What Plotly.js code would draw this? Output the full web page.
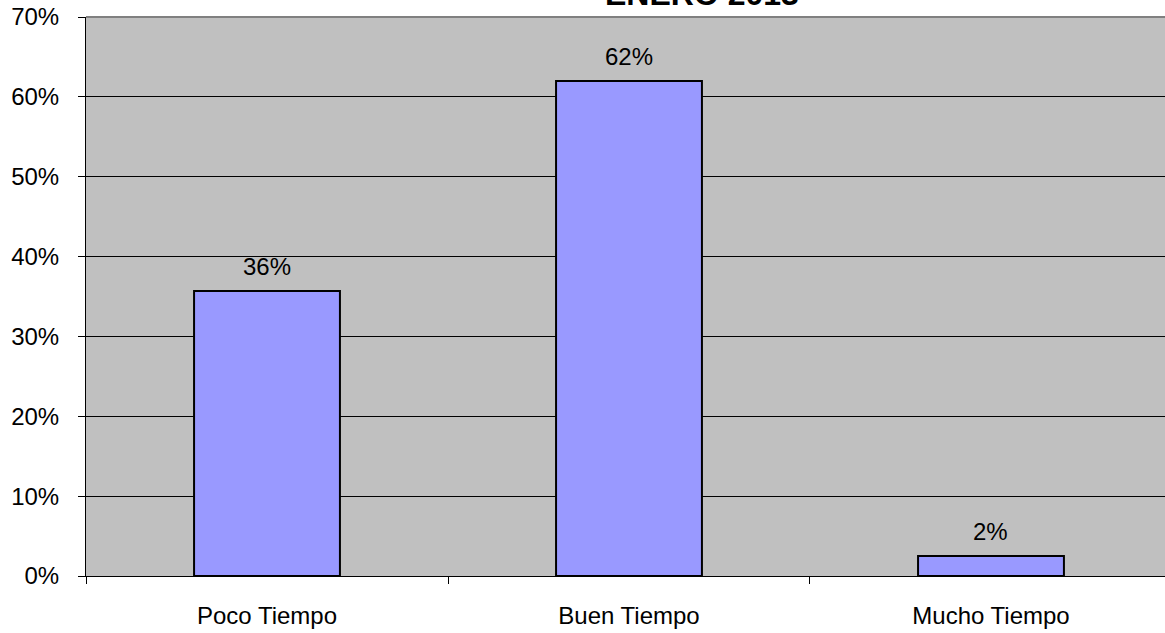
<!DOCTYPE html>
<html>
<head>
<meta charset="utf-8">
<script src="https://cdn.plot.ly/plotly-3.0.1.min.js"></script>
<style>html,body{margin:0;padding:0;background:#fff;}#chart{width:1165px;height:633px;}</style>
</head>
<body>
<div id="chart"></div>
<script>
var categories = ['Poco Tiempo', 'Buen Tiempo', 'Mucho Tiempo'];
var values = [0.357, 0.62, 0.0249];
var yTicks = [0, 0.1, 0.2, 0.3, 0.4, 0.5, 0.6, 0.7];
var yTickLabels = ['0%', '10%', '20%', '30%', '40%', '50%', '60%', '70%'];
var titleText = 'ENERO 2013';

var font = 'Arial, "Liberation Sans", sans-serif';

var trace = {
  type: 'bar',
  x: categories,
  y: values,
  width: 0.403,
  marker: {color: '#9999FF', line: {color: '#000000', width: 2}},
  hoverinfo: 'skip'
};

var labelAnnotations = categories.map(function (c, i) {
  return {
    x: c, y: values[i], xref: 'x', yref: 'y',
    text: Math.round(values[i] * 100) + '%',
    showarrow: false, xanchor: 'center', yanchor: 'bottom',
    yshift: 10, borderpad: 0,
    font: {family: font, size: 24, color: '#000'}
  };
});

var layout = {
  width: 1165, height: 633,
  margin: {l: 86, r: 0, t: 17, b: 57},
  paper_bgcolor: '#ffffff',
  plot_bgcolor: '#C0C0C0',
  showlegend: false,
  font: {family: font, size: 24, color: '#000'},
  xaxis: {
    type: 'category',
    tickson: 'boundaries',
    ticks: 'outside', ticklen: 7, tickcolor: '#000', tickwidth: 1,
    showline: true, linecolor: '#000', linewidth: 1,
    showgrid: false, zeroline: false,
    tickfont: {family: font, size: 24, color: '#000'},
    ticklabelstandoff: 18,
    range: [-0.5, 2.4807]
  },
  yaxis: {
    range: [0, 0.7],
    tickvals: yTicks, ticktext: yTickLabels,
    ticks: 'outside', ticklen: 7, tickcolor: '#000', tickwidth: 1,
    showline: true, linecolor: '#000', linewidth: 1,
    showgrid: true, gridcolor: '#000', gridwidth: 1,
    zeroline: false,
    tickfont: {family: font, size: 24, color: '#000'},
    ticklabelstandoff: 14
  },
  shapes: [{
    type: 'line', xref: 'paper', yref: 'paper', x0: 0, x1: 1, y0: 1, y1: 1,
    line: {color: '#808080', width: 2}
  }],
  annotations: labelAnnotations.concat([{
    text: '<b>' + titleText + '</b>',
    xref: 'paper', yref: 'paper', x: 0.571, y: 1, xanchor: 'center', yanchor: 'middle',
    yshift: 23, showarrow: false,
    font: {family: font, size: 32, color: '#000'}
  }])
};

Plotly.newPlot('chart', [trace], layout, {displayModeBar: false, staticPlot: true});
</script>
</body>
</html>
